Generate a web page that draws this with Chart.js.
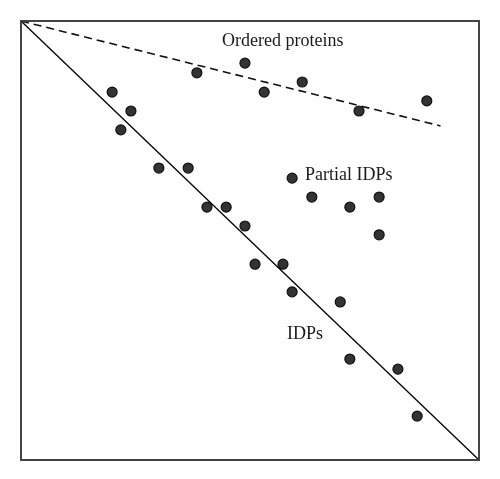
<!DOCTYPE html>
<html>
<head>
<meta charset="utf-8">
<script src="https://cdn.jsdelivr.net/npm/chart.js@4"></script>
<style>
  body { margin: 0; background: #fff; }
  canvas { display: block; }
</style>
</head>
<body>
<canvas id="chart" width="500" height="479"></canvas>
<script>
// points, in box units (0..100 both ways)
var orderedX = [38.4, 48.9, 53.1, 61.4, 73.8, 88.6]
var orderedY = [88.2, 90.4, 83.8, 86.1, 79.5, 81.8]

var partialX = [59.2, 63.5, 71.8, 78.2, 78.2]
var partialY = [64.2, 59.9, 57.6, 59.9, 51.3]

var idpX = [19.9, 24.0, 21.8, 30.1, 36.5, 40.6, 44.8, 48.9, 51.1, 57.2, 59.2, 69.7, 71.8, 82.3, 86.5]
var idpY = [83.8, 79.5, 75.2, 66.5, 66.5, 57.6, 57.6, 53.3, 44.6, 44.6, 38.3, 36.0, 23.0, 20.7, 10.0]

// trend lines
var diagX = [0, 100]
var diagY = [100, 0]
var dashX = [0, 91.6]
var dashY = [100, 76.1]

// annotations (left edge, baseline)
var labelText = ['Ordered proteins', 'Partial IDPs', 'IDPs']
var labelX = [43.9, 62.0, 58.1]
var labelY = [94.3, 63.8, 27.6]

function pts(xs, ys) {
    return xs.map(function(x, i) { return {x: x, y: ys[i]} })
}

var dot = {
    type: 'scatter',
    backgroundColor: '#333',
    borderColor: '#111',
    borderWidth: 1.2,
    pointRadius: 5,
    pointHoverRadius: 5
}

var boxAndLabels = {
    id: 'boxAndLabels',
    afterDraw: function(chart) {
        var ctx = chart.ctx
        var a = chart.chartArea
        var sx = chart.scales.x, sy = chart.scales.y
        ctx.save()
        ctx.strokeStyle = '#444'
        ctx.lineWidth = 2
        ctx.strokeRect(a.left, a.top, a.right - a.left, a.bottom - a.top)
        ctx.fillStyle = '#1a1a1a'
        ctx.font = '18px "Liberation Serif", "DejaVu Serif", serif'
        ctx.textAlign = 'left'
        ctx.textBaseline = 'alphabetic'
        labelText.forEach(function(t, i) {
            ctx.fillText(t, sx.getPixelForValue(labelX[i]), sy.getPixelForValue(labelY[i]))
        })
        ctx.restore()
    }
}

var ctx = document.getElementById('chart').getContext('2d')
var myChart = new Chart(ctx, {
    data: {
        datasets: [
            {type: 'line', data: pts(diagX, diagY), borderColor: '#000', borderWidth: 1.3, pointRadius: 0, fill: false, clip: false},
            {type: 'line', data: pts(dashX, dashY), borderColor: '#111', borderWidth: 1.6, borderDash: [8, 5], pointRadius: 0, fill: false, clip: false},
            Object.assign({label: 'Ordered proteins', data: pts(orderedX, orderedY)}, dot),
            Object.assign({label: 'Partial IDPs', data: pts(partialX, partialY)}, dot),
            Object.assign({label: 'IDPs', data: pts(idpX, idpY)}, dot)
        ]
    },
    options: {
        responsive: false,
        animation: false,
        layout: { padding: {left: 21, top: 21, right: 21, bottom: 19} },
        plugins: { legend: {display: false}, tooltip: {enabled: false} },
        scales: {
            x: {type: 'linear', min: 0, max: 100, display: false},
            y: {type: 'linear', min: 0, max: 100, display: false}
        }
    },
    plugins: [boxAndLabels]
});
</script>
</body>
</html>
